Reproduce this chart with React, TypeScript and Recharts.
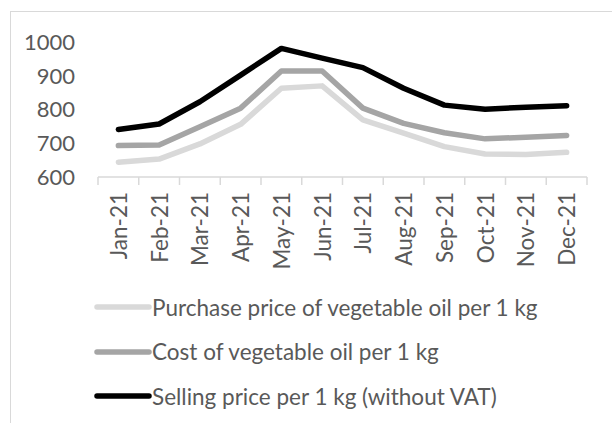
import React from 'react';
import { LineChart, Line, XAxis, YAxis, Legend } from 'recharts';

const months = ['Jan-21', 'Feb-21', 'Mar-21', 'Apr-21', 'May-21', 'Jun-21', 'Jul-21', 'Aug-21', 'Sep-21', 'Oct-21', 'Nov-21', 'Dec-21'];
const purchasePrice = [644, 653, 698, 756, 863, 870, 769, 730, 690, 668, 667, 673];
const costPrice = [693, 695, 749, 804, 914, 914, 804, 759, 731, 713, 718, 723];
const sellingPrice = [741, 757, 823, 902, 981, 952, 924, 863, 813, 801, 807, 811];
const yTicks = [600, 700, 800, 900, 1000];

const seriesNames = [
  'Purchase price of vegetable oil per 1 kg',
  'Cost of vegetable oil per 1 kg',
  'Selling price per 1 kg (without VAT)',
];
const seriesColors = ['#d9d9d9', '#a5a5a5', '#000000'];

const data = months.map((m, i) => ({
  month: m,
  purchase: purchasePrice[i],
  cost: costPrice[i],
  selling: sellingPrice[i],
}));

const FONT = 'Lato, "Open Sans", sans-serif';
const W = 612;
const H = 423;
const PLOT_LEFT = 98;
const PLOT_RIGHT = 587;
const BAND = (PLOT_RIGHT - PLOT_LEFT) / months.length;

const MonthTick = (props: any) => {
  const { x, y, payload, index } = props;
  const left = x - BAND / 2;
  return (
    <g>
      <line x1={left} y1={y} x2={left} y2={y + 8} stroke="#d9d9d9" strokeWidth={1.5} />
      {index === months.length - 1 && (
        <line x1={x + BAND / 2} y1={y} x2={x + BAND / 2} y2={y + 8} stroke="#d9d9d9" strokeWidth={1.5} />
      )}
      <text
        x={x}
        y={y + 15}
        transform={`rotate(-90, ${x}, ${y + 15})`}
        textAnchor="end"
        dominantBaseline="central"
        fill="#595959"
        fontSize={22.5}
        fontFamily={FONT}
      >
        {payload.value}
      </text>
    </g>
  );
};

const LegendBox = () => (
  <div style={{ fontFamily: FONT, fontSize: 22.5, color: '#595959' }}>
    {seriesNames.map((name, i) => (
      <div key={name} style={{ display: 'flex', alignItems: 'center', height: 44.5 }}>
        <svg width={58} height={10} style={{ display: 'block' }}>
          <line x1={3} y1={5} x2={55} y2={5} stroke={seriesColors[i]} strokeWidth={5.5} strokeLinecap="round" />
        </svg>
        <span style={{ whiteSpace: 'nowrap' }}>{name}</span>
      </div>
    ))}
  </div>
);

export default function App() {
  return (
    <div style={{ position: 'absolute', left: 0, top: 0, width: W, height: H, overflow: 'hidden', background: '#fff' }}>
      <div
        style={{
          position: 'absolute',
          left: 10,
          top: 11,
          width: 700,
          height: 500,
          border: '1.5px solid #d9d9d9',
        }}
      />
      <div style={{ position: 'absolute', left: 0, top: 0 }}>
        <LineChart width={W} height={H} data={data} margin={{ top: 42, right: W - PLOT_RIGHT, left: 0, bottom: 146 }}>
          <XAxis
            dataKey="month"
            height={100}
            interval={0}
            padding={{ left: BAND / 2, right: BAND / 2 }}
            axisLine={{ stroke: '#d9d9d9', strokeWidth: 1.5 }}
            tickLine={false}
            tickSize={0}
            tickMargin={0}
            tick={<MonthTick />}
          />
          <YAxis
            width={PLOT_LEFT}
            domain={[600, 1000]}
            ticks={yTicks}
            axisLine={false}
            tickLine={false}
            tickSize={0}
            tickMargin={23}
            tick={{ fill: '#595959', fontSize: 22, fontFamily: FONT }}
          />
          <Legend
            layout="vertical"
            align="center"
            verticalAlign="middle"
            content={<LegendBox />}
            wrapperStyle={{ position: 'absolute', left: 94, top: 285, width: 520 }}
          />
          <Line dataKey="purchase" stroke={seriesColors[0]} strokeWidth={5.5} dot={false} strokeLinejoin="round" strokeLinecap="round" isAnimationActive={false} />
          <Line dataKey="cost" stroke={seriesColors[1]} strokeWidth={5.5} dot={false} strokeLinejoin="round" strokeLinecap="round" isAnimationActive={false} />
          <Line dataKey="selling" stroke={seriesColors[2]} strokeWidth={5.5} dot={false} strokeLinejoin="round" strokeLinecap="round" isAnimationActive={false} />
        </LineChart>
      </div>
    </div>
  );
}
